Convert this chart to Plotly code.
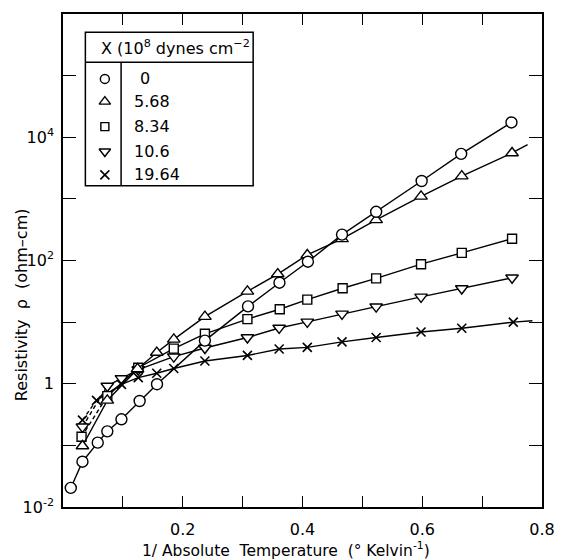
import plotly.graph_objects as go

# ---- data ----
circ_x = [0.013, 0.0325, 0.058, 0.074, 0.0976, 0.128, 0.157, 0.237, 0.309, 0.3615, 0.409, 0.466, 0.523, 0.599, 0.665, 0.749]
circ_y = [0.0204, 0.0543, 0.1107, 0.169, 0.265, 0.525, 0.982, 5.01, 18.0, 43.6, 95.5, 263, 617, 1950, 5370, 17380]

tri_x = [0.0325, 0.074, 0.1245, 0.1566, 0.185, 0.237, 0.308, 0.3587, 0.408, 0.466, 0.523, 0.598, 0.666, 0.750]
tri_y = [0.0977, 0.537, 1.74, 3.21, 5.25, 12.3, 31.6, 60.3, 123, 224, 457, 1096, 2344, 5560]
tri_ext_x = [0.750, 0.776]
tri_ext_y = [5560, 7590]

sq_x = [0.031, 0.074, 0.1257, 0.185, 0.237, 0.308, 0.362, 0.408, 0.467, 0.523, 0.598, 0.666, 0.750]
sq_y = [0.138, 0.63, 1.82, 3.72, 6.46, 11.2, 16.2, 23.2, 35.5, 51.3, 87.1, 133, 226]

inv_x = [0.0325, 0.074, 0.0976, 0.1257, 0.185, 0.237, 0.308, 0.361, 0.408, 0.466, 0.523, 0.598, 0.666, 0.750]
inv_y = [0.20, 0.92, 1.22, 1.70, 2.75, 3.80, 5.62, 8.04, 10.1, 13.6, 17.8, 25.7, 35.1, 52.5]

xx_x = [0.0325, 0.056, 0.0976, 0.1257, 0.1566, 0.185, 0.237, 0.308, 0.361, 0.408, 0.466, 0.523, 0.598, 0.666, 0.752]
xx_y = [0.257, 0.537, 0.977, 1.26, 1.48, 1.77, 2.34, 2.88, 3.67, 3.89, 4.79, 5.62, 6.92, 7.94, 10.0]
xx_ext_x = [0.752, 0.784]
xx_ext_y = [10.0, 10.5]

legend_labels = ["0", "5.68", "8.34", "10.6", "19.64"]
legend_header = "X (10<sup>8</sup> dynes cm<sup>\u22122</sup>"

x_tickvals = [0.1, 0.2, 0.3, 0.4, 0.5, 0.6, 0.7, 0.8]
x_ticktext = ["", "0.2", "", "0.4", "", "0.6", "", "0.8"]
y_tickvals = [1e-2, 1e-1, 1, 1e1, 1e2, 1e3, 1e4, 1e5, 1e6]
y_ticktext = ["10<sup>-2</sup>", "", "1", "", "10<sup>2</sup>", "", "10<sup>4</sup>", "", ""]

FONT = "DejaVu Sans"
LW = 1.4

fig = go.Figure()

def series(x, y, symbol, size, dashed_first=False):
    if dashed_first:
        fig.add_trace(go.Scatter(x=x[:2], y=y[:2], mode="lines",
                                 line=dict(color="black", width=LW, dash="4px,3px"),
                                 showlegend=False, hoverinfo="skip"))
        fig.add_trace(go.Scatter(x=x[1:], y=y[1:], mode="lines",
                                 line=dict(color="black", width=LW),
                                 showlegend=False, hoverinfo="skip"))
    else:
        fig.add_trace(go.Scatter(x=x, y=y, mode="lines",
                                 line=dict(color="black", width=LW),
                                 showlegend=False, hoverinfo="skip"))
    if symbol.startswith("x"):
        mk = dict(symbol=symbol, size=size, color="black", line=dict(color="black", width=1.6))
    else:
        mk = dict(symbol=symbol, size=size, color="white", line=dict(color="black", width=1.4))
    fig.add_trace(go.Scatter(x=x, y=y, mode="markers", marker=mk, showlegend=False))

fig.add_trace(go.Scatter(x=tri_ext_x, y=tri_ext_y, mode="lines",
                         line=dict(color="black", width=LW), showlegend=False))
fig.add_trace(go.Scatter(x=xx_ext_x, y=xx_ext_y, mode="lines",
                         line=dict(color="black", width=LW), showlegend=False))
series(xx_x, xx_y, "x-thin", 9, dashed_first=True)
series(inv_x, inv_y, "triangle-down", 11, dashed_first=True)
series(sq_x, sq_y, "square", 9, dashed_first=True)
series(tri_x, tri_y, "triangle-up", 11)
series(circ_x, circ_y, "circle", 11)

# ---- legend table (drawn on a hidden overlay axis spanning the plot) ----
sym_list = ["circle", "triangle-up", "square", "triangle-down", "x-thin"]
sym_sizes = [9, 10, 8, 10, 9]
row_y = [0.8683, 0.8223, 0.7716, 0.721, 0.6738]
for s, sz, ry in zip(sym_list, sym_sizes, row_y):
    if s.startswith("x"):
        mk = dict(symbol=s, size=sz, color="black", line=dict(color="black", width=1.6))
    else:
        mk = dict(symbol=s, size=sz, color="white", line=dict(color="black", width=1.4))
    fig.add_trace(go.Scatter(x=[0.0874], y=[ry], mode="markers", marker=mk,
                             xaxis="x2", yaxis="y2", showlegend=False))

annotations = []
for lab, ry in zip(legend_labels, row_y):
    annotations.append(dict(x=0.145 if lab != "0" else 0.157, y=ry, xref="paper", yref="paper",
                            text=lab, showarrow=False, xanchor="left", yanchor="middle",
                            font=dict(family=FONT, size=16, color="black")))
annotations.append(dict(x=0.075, y=0.933, xref="paper", yref="paper", text=legend_header,
                        showarrow=False, xanchor="left", yanchor="middle",
                        font=dict(family=FONT, size=16, color="black")))
annotations.append(dict(x=0.465, y=-0.087, xref="paper", yref="paper",
                        text="1/ Absolute  Temperature  (\u00b0 Kelvin<sup>-1</sup>)",
                        showarrow=False, xanchor="center", yanchor="middle",
                        font=dict(family=FONT, size=15.5, color="black")))
annotations.append(dict(x=-0.085, y=0.41, xref="paper", yref="paper",
                        text="Resistivity  \u03c1  (ohm\u2013cm)", textangle=-90,
                        showarrow=False, xanchor="center", yanchor="middle",
                        font=dict(family=FONT, size=16, color="black")))

shapes = [
    dict(type="rect", xref="paper", yref="paper", x0=0.0467, x1=0.397, y0=0.6515, y1=0.963,
         line=dict(color="black", width=1.5)),
    dict(type="line", xref="paper", yref="paper", x0=0.0467, x1=0.397, y0=0.902, y1=0.902,
         line=dict(color="black", width=1.5)),
    dict(type="line", xref="paper", yref="paper", x0=0.1213, x1=0.1213, y0=0.6515, y1=0.902,
         line=dict(color="black", width=1.5)),
]

fig.update_layout(
    width=566, height=559,
    margin=dict(l=63, r=11, t=14, b=52, pad=0),
    paper_bgcolor="white", plot_bgcolor="white",
    font=dict(family=FONT, size=16, color="black"),
    showlegend=False,
    xaxis=dict(range=[0, 0.8], tickvals=x_tickvals, ticktext=x_ticktext,
               ticks="inside", ticklen=11, tickwidth=1.3, tickcolor="black",
               showline=True, linecolor="black", linewidth=1.5, mirror="ticks",
               showgrid=False, zeroline=False, ticklabelstandoff=7,
               ticklabeloverflow="allow",
               tickfont=dict(family=FONT, size=16)),
    yaxis=dict(type="log", range=[-2, 6], tickvals=y_tickvals, ticktext=y_ticktext,
               ticks="inside", ticklen=13, tickwidth=1.3, tickcolor="black",
               showline=True, linecolor="black", linewidth=1.5, mirror="ticks",
               showgrid=False, zeroline=False, ticklabelstandoff=4,
               tickfont=dict(family=FONT, size=16)),
    xaxis2=dict(overlaying="x", range=[0, 1], visible=False, anchor="y2"),
    yaxis2=dict(overlaying="y", range=[0, 1], visible=False, anchor="x2"),
    annotations=annotations,
    shapes=shapes,
)

fig.write_html("out.html", config={"displayModeBar": False},
               post_script="document.body.style.margin='0';document.body.style.padding='0';document.body.style.overflow='hidden';")
